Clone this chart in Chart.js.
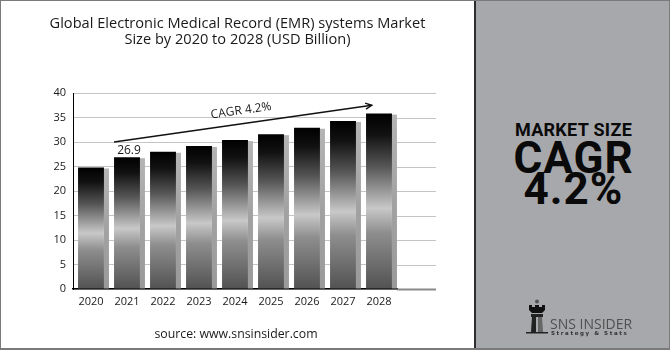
<!DOCTYPE html>
<html>
<head>
<meta charset="utf-8">
<script src="https://cdn.jsdelivr.net/npm/chart.js@4.4.1/dist/chart.umd.min.js"></script>
<style>
  html, body { margin: 0; padding: 0; background: #fff; }
  #frame { position: relative; width: 670px; height: 350px; box-sizing: border-box; border: 1px solid #7a7a7a; border-bottom-width: 2px; overflow: hidden; font-family: "Open Sans", sans-serif; }
  #chart { position: absolute; left: 0; top: 0; }
  .title { position: absolute; left: 0; width: 473px; text-align: center; font-size: 14.6px; color: #1a1a1a; line-height: 16px; top: 13px; }
  .source { position: absolute; left: 0; width: 470px; text-align: center; font-size: 12.3px; color: #1a1a1a; top: 324px; }
  #side { position: absolute; left: 473px; top: 0; width: 197px; height: 350px; background: #a7a8ac; border-left: 2px solid #2e2e2e; box-sizing: border-box; text-align: center; color: #0a0a0a; font-family: Roboto, sans-serif; font-weight: 700; }
  .ms { position: absolute; left: 0; width: 100%; top: 119px; font-size: 18px; line-height: 20px; letter-spacing: 0.3px; }
  .big { position: absolute; left: 0; width: 100%; font-size: 44px; line-height: 40px; letter-spacing: 1px; }
  .logo { position: absolute; left: 50px; top: 298px; }
  .logo-text { position: absolute; left: 74px; top: 313px; font-family: "Open Sans", sans-serif; font-weight: 400; color: #505050; font-size: 14px; white-space: nowrap; }
  .logo-sub { position: absolute; left: 75px; top: 329px; font-family: "DejaVu Sans", sans-serif; font-weight: 700; color: #333; font-size: 5.5px; letter-spacing: 1.6px; white-space: nowrap; }
</style>
</head>
<body>
<div id="frame">
  <canvas id="chart" width="473" height="347"></canvas>
  <div class="title">Global Electronic Medical Record (EMR) systems Market<br>Size by 2020 to 2028 (USD Billion)</div>
  <div class="source">source: www.snsinsider.com</div>
  <div id="side">
    <div class="ms">MARKET SIZE</div>
    <div class="big" style="top:137px">CAGR</div>
    <div class="big" style="top:168px">4.2%</div>
    <svg class="logo" width="22" height="36" viewBox="0 0 22 36">
      <circle cx="11" cy="2.5" r="2" fill="#555"/>
      <path d="M3 6 h3 v2 h3 v-2 h4 v2 h3 v-2 h3 v5 l-3 3 h-10 l-3 -3 z" fill="#111"/>
      <rect x="5" y="15" width="12" height="3" fill="#222"/>
      <path d="M6 18 h4 v15 h-5 z" fill="#222"/>
      <path d="M12 18 h4 l1 15 h-5 z" fill="#666"/>
      <rect x="0" y="33" width="22" height="1.5" fill="#222"/>
    </svg>
    <div class="logo-text">SNS INSIDER</div>
    <div class="logo-sub">Strategy &amp; Stats</div>
  </div>
</div>
<script>
var years = ['2020', '2021', '2022', '2023', '2024', '2025', '2026', '2027', '2028'];
var marketSize = [24.8, 26.9, 28.0, 29.2, 30.4, 31.6, 32.9, 34.3, 35.8];
var labelledYear = 1;
var cagrText = 'CAGR 4.2%';

var barGradient = function(context) {
    let chart = context.chart;
    let yScale = chart.scales.y;
    if (!yScale || context.parsed == null) return '#333';
    let top = yScale.getPixelForValue(context.parsed.y);
    let bottom = yScale.getPixelForValue(0);
    if (!isFinite(top) || !isFinite(bottom) || top === bottom) return '#333';
    let g = chart.ctx.createLinearGradient(0, top, 0, bottom);
    g.addColorStop(0, '#000000');
    g.addColorStop(0.12, '#121212');
    g.addColorStop(0.3, '#555555');
    g.addColorStop(0.54, '#c8c8c8');
    g.addColorStop(0.68, '#8e8e8e');
    g.addColorStop(1, '#525252');
    return g;
};

var gridExtension = {
    id: 'gridExtension',
    beforeDatasetsDraw: function(chart) {
        let ctx = chart.ctx, area = chart.chartArea, y = chart.scales.y;
        ctx.save();
        y.ticks.forEach(function(t) {
            let py = Math.round(y.getPixelForValue(t.value)) + 0.5;
            ctx.strokeStyle = t.value === 0 ? '#8a8a8a' : '#c4c4c4';
            ctx.lineWidth = t.value === 0 ? 2 : 1;
            ctx.beginPath();
            ctx.moveTo(area.right, py);
            ctx.lineTo(435, py);
            ctx.stroke();
        });
        // side shading of each bar
        let meta = chart.getDatasetMeta(0);
        meta.data.forEach(function(bar) {
            let g = ctx.createLinearGradient(0, bar.y, 0, bar.base);
            g.addColorStop(0, '#b4b4b4');
            g.addColorStop(0.5, '#a2a2a2');
            g.addColorStop(1, '#9a9a9a');
            ctx.fillStyle = g;
            ctx.fillRect(bar.x + bar.width / 2, bar.y + 1, 5, bar.base - bar.y - 1);
        });
        ctx.restore();
    },
    afterDatasetsDraw: function(chart) {
        let ctx = chart.ctx, x = chart.scales.x, y = chart.scales.y;
        let meta = chart.getDatasetMeta(0);
        let bar = meta.data[labelledYear];
        ctx.save();
        ctx.fillStyle = '#1a1a1a';
        ctx.font = '12px "Open Sans"';
        ctx.textAlign = 'center';
        ctx.textBaseline = 'bottom';
        ctx.fillText(String(marketSize[labelledYear]), bar.x + 2, bar.y - 1);

        // CAGR arrow
        let x0 = bar.x - bar.width / 2, y0 = y.getPixelForValue(30);
        let p7 = x.getPixelForValue(7), p8 = x.getPixelForValue(8);
        let x1 = p7 + 0.8 * (p8 - p7), y1 = y.getPixelForValue(37.5);
        let ang = Math.atan2(y1 - y0, x1 - x0);
        ctx.strokeStyle = '#111';
        ctx.lineWidth = 1.4;
        ctx.beginPath();
        ctx.moveTo(x0, y0);
        ctx.lineTo(x1, y1);
        ctx.stroke();
        ctx.beginPath();
        ctx.moveTo(x1 - 7 * Math.cos(ang - 0.45), y1 - 7 * Math.sin(ang - 0.45));
        ctx.lineTo(x1, y1);
        ctx.lineTo(x1 - 7 * Math.cos(ang + 0.45), y1 - 7 * Math.sin(ang + 0.45));
        ctx.stroke();

        let tx = 242, t = (tx - x0) / (x1 - x0), ty = y0 + t * (y1 - y0);
        ctx.translate(tx + 13 * Math.sin(ang), ty - 13 * Math.cos(ang));
        ctx.rotate(ang);
        ctx.textBaseline = 'middle';
        ctx.fillText(cagrText, 0, 0);
        ctx.restore();
    }
};

var ctx = document.getElementById('chart').getContext('2d');
var myChart = new Chart(ctx, {
    type: 'bar',
    data: {
        labels: years,
        datasets: [{
            data: marketSize,
            backgroundColor: barGradient,
            barPercentage: 0.72,
            categoryPercentage: 1
        }]
    },
    options: {
        responsive: false,
        animation: false,
        layout: { padding: { top: 92, right: 77, bottom: 0, left: 0 } },
        plugins: { legend: { display: false }, tooltip: { enabled: false } },
        scales: {
            x: {
                grid: { display: false, drawTicks: false },
                border: { display: true, color: '#000', width: 1.5 },
                ticks: { color: '#1a1a1a', padding: 6, font: { family: 'Open Sans', size: 11 } },
                afterFit: function(s) { s.height = 59; }
            },
            y: {
                min: 0,
                max: 40,
                ticks: { stepSize: 5, color: '#1a1a1a', padding: 7, font: { family: 'Open Sans', size: 11 } },
                grid: { color: '#c4c4c4', drawTicks: false },
                border: { display: true, color: '#000', width: 1 },
                afterFit: function(s) { s.width = 72; }
            }
        }
    },
    plugins: [gridExtension]
});
</script>
</body>
</html>
